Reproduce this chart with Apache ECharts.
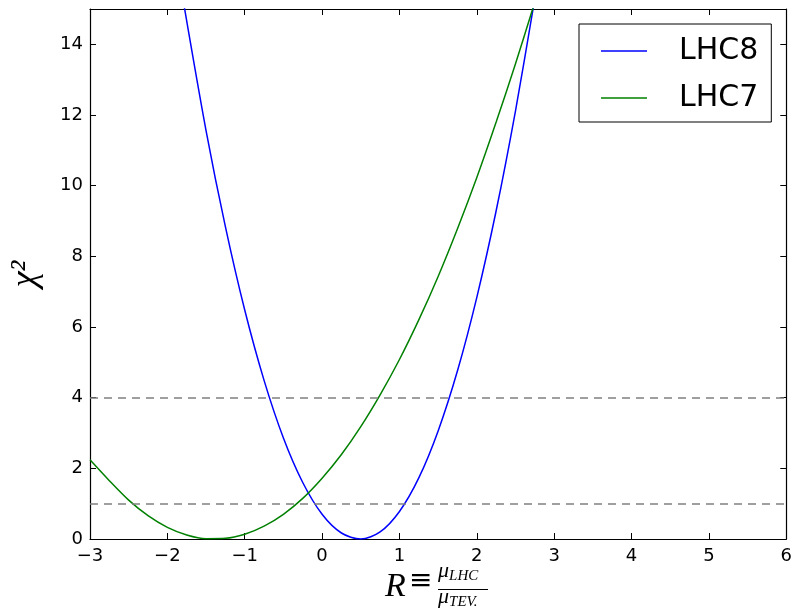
<!DOCTYPE html>
<html>
<head>
<meta charset="utf-8">
<script src="https://cdn.jsdelivr.net/npm/echarts@6/dist/echarts.min.js"></script>
<style>
  html, body { margin: 0; padding: 0; background: #fff; }
  #main { width: 795px; height: 614px; }
</style>
</head>
<body>
<div id="main"></div>
<script>
// values
const lhc8R = [-1.8, -1.5, -1.25, -1, -0.75, -0.5, -0.25, 0, 0.25, 0.5, 0.75, 1, 1.25, 1.5, 1.75, 2, 2.25, 2.5, 2.75];
const lhc8Chi2 = [15.3, 11.56, 8.84, 6.48, 4.49, 2.86, 1.6, 0.7, 0.17, 0, 0.2, 0.78, 1.73, 3.06, 4.76, 6.84, 9.29, 12.12, 15.3];

const lhc7R = [-3, -2.75, -2.5, -2.25, -2, -1.75, -1.5, -1.25, -1, -0.75, -0.5, -0.25, 0, 0.25, 0.5, 0.75, 1, 1.25, 1.5, 1.75, 2, 2.25, 2.5, 2.75];
const lhc7Chi2 = [2.24, 1.65, 1.1, 0.66, 0.33, 0.115, 0.01, 0.02, 0.135, 0.365, 0.7, 1.15, 1.72, 2.39, 3.18, 4.08, 5.08, 6.2, 7.43, 8.78, 10.23, 11.8, 13.45, 15.2];

const refLevels = [1, 4];

const pairs = (xs, ys) => xs.map((x, i) => [x, ys[i]]);
const minus = v => (v < 0 ? '\u2212' + Math.abs(v) : String(v));

const chart = echarts.init(document.getElementById('main'));

const tickStyle = { inside: true, length: 6, lineStyle: { color: '#000', width: 1 } };
const lineStyleAxis = { show: true, onZero: false, lineStyle: { color: '#000', width: 1.2 } };

chart.setOption({
  animation: false,
  textStyle: { fontFamily: 'DejaVu Sans' },
  grid: { left: 84, right: 7, top: 9, bottom: 75, containLabel: false },
  legend: {
    orient: 'vertical',
    left: 579,
    top: 24,
    padding: [12, 13, 9, 22],
    itemGap: 17,
    itemWidth: 46,
    itemHeight: 1.5,
    icon: 'rect',
    backgroundColor: '#fff',
    borderColor: '#000',
    borderWidth: 1,
    borderRadius: 0,
    textStyle: { fontSize: 30, color: '#000', fontFamily: 'DejaVu Sans', padding: [0, 0, 0, 27] },
    data: ['LHC8', 'LHC7']
  },
  xAxis: [
    {
      type: 'value', min: -3, max: 6, interval: 1,
      axisLine: lineStyleAxis, axisTick: tickStyle, splitLine: { show: false },
      axisLabel: { fontSize: 18, color: '#000', margin: 8, formatter: minus }
    },
    {
      type: 'value', position: 'top', min: -3, max: 6, interval: 1,
      axisLine: lineStyleAxis, axisTick: tickStyle, splitLine: { show: false },
      axisLabel: { show: false }
    }
  ],
  yAxis: [
    {
      type: 'value', min: 0, max: 15, interval: 2,
      axisLine: lineStyleAxis, axisTick: tickStyle, splitLine: { show: false },
      axisLabel: { fontSize: 18, color: '#000', margin: 7, formatter: v => (v > 14 ? '' : String(v)) },
      name: 'χ²', nameLocation: 'middle', nameRotate: 90, nameGap: 46,
      nameTextStyle: { fontFamily: 'Liberation Serif', fontStyle: 'italic', fontSize: 36, color: '#000' }
    },
    {
      type: 'value', position: 'right', min: 0, max: 15, interval: 2,
      axisLine: lineStyleAxis, axisTick: tickStyle, splitLine: { show: false },
      axisLabel: { show: false }
    }
  ],
  series: [
    {
      name: 'LHC8', type: 'line', data: pairs(lhc8R, lhc8Chi2),
      symbol: 'none', smooth: 0.3, clip: true,
      lineStyle: { color: '#0000ff', width: 1.5 }, itemStyle: { color: '#0000ff' },
      markLine: {
        silent: true, symbol: 'none', label: { show: false },
        lineStyle: { color: '#808080', type: [8, 6], width: 1.5 },
        data: refLevels.map(v => ({ yAxis: v }))
      }
    },
    {
      name: 'LHC7', type: 'line', data: pairs(lhc7R, lhc7Chi2),
      symbol: 'none', smooth: 0.3, clip: true,
      lineStyle: { color: '#008000', width: 1.5 }, itemStyle: { color: '#008000' }
    }
  ],
  graphic: [
    { type: 'text', left: 385, top: 570, style: { text: 'R', font: 'italic 34px "Liberation Serif"', fill: '#000' } },
    { type: 'text', left: 409, top: 568, style: { text: '≡', font: '28px "DejaVu Serif"', fill: '#000' } },
    {
      type: 'text', left: 438, top: 560,
      style: {
        text: '{m|μ}{s|LHC}',
        rich: {
          m: { font: 'italic 22px "Liberation Serif"', fill: '#000' },
          s: { font: 'italic 15px "Liberation Serif"', fill: '#000', padding: [10, 0, 0, 0] }
        }
      }
    },
    { type: 'line', shape: { x1: 438, y1: 589.5, x2: 488, y2: 589.5 }, style: { stroke: '#000', lineWidth: 1 } },
    {
      type: 'text', left: 438, top: 586,
      style: {
        text: '{m|μ}{s|TEV.}',
        rich: {
          m: { font: 'italic 22px "Liberation Serif"', fill: '#000' },
          s: { font: 'italic 15px "Liberation Serif"', fill: '#000', padding: [10, 0, 0, 0] }
        }
      }
    }
  ]
});
</script>
</body>
</html>
